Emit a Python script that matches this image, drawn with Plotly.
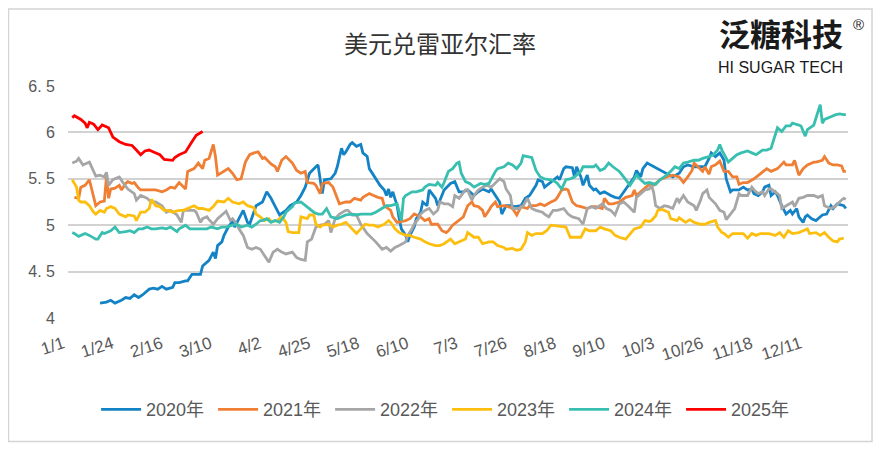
import plotly.graph_objects as go

# ---- axis categories ----
tick_days = [0, 23, 46, 69, 92, 115, 138, 161, 184, 207, 230, 253, 276, 299, 322, 345]
tick_labels = ['1/1', '1/24', '2/16', '3/10', '4/2', '4/25', '5/18', '6/10', '7/3',
               '7/26', '8/18', '9/10', '10/3', '10/26', '11/18', '12/11']
y_ticks = [4, 4.5, 5, 5.5, 6, 6.5]
y_tick_text = ['4', '4. 5', '5', '5. 5', '6', '6. 5']

# ---- series (day of year, USD/BRL) ----
d2020 = [15, 18, 20, 22, 25, 27, 29, 31, 33, 35, 38, 40, 42, 44, 46, 49, 50, 52, 55, 56, 58, 60, 62, 63, 65, 66, 68, 69, 70, 72, 73, 75, 77, 78, 80, 82, 84, 85, 88, 91, 93, 95, 97, 99, 102, 104, 107, 109, 111, 113, 116, 117, 119, 120, 123, 125, 126, 128, 129, 130, 132, 133, 135, 137, 138, 140, 141, 144, 146, 148, 149, 150, 151, 152, 154, 155, 156, 158, 159, 160, 162, 163, 165, 166, 168, 169, 171, 172, 173, 175, 176, 179, 181, 183, 185, 187, 190, 192, 194, 197, 198, 200, 202, 203, 205, 207, 209, 212, 214, 216, 219, 220, 222, 223, 225, 227, 229, 230, 232, 233, 236, 237, 238, 240, 241, 243, 244, 246, 247, 249, 251, 254, 256, 258, 261, 262, 264, 265, 266, 268, 269, 271, 283, 286, 288, 290, 293, 296, 298, 300, 301, 303, 305, 307, 308, 310, 311, 314, 316, 318, 320, 321, 323, 325, 326, 328, 329, 331, 332, 334, 336, 338, 339, 341, 342, 344, 345, 346, 348, 350, 353, 355, 357, 358, 360, 363, 364]
v2020 = [4.16, 4.17, 4.19, 4.16, 4.19, 4.22, 4.21, 4.25, 4.22, 4.25, 4.31, 4.32, 4.31, 4.34, 4.31, 4.33, 4.38, 4.38, 4.40, 4.40, 4.47, 4.47, 4.47, 4.56, 4.60, 4.62, 4.71, 4.64, 4.78, 4.82, 4.89, 4.98, 5.04, 4.98, 5.07, 5.16, 5.03, 5.01, 5.21, 5.25, 5.36, 5.29, 5.20, 5.11, 5.16, 5.21, 5.25, 5.32, 5.41, 5.56, 5.63, 5.65, 5.34, 5.49, 5.50, 5.56, 5.63, 5.83, 5.76, 5.79, 5.87, 5.89, 5.85, 5.87, 5.78, 5.74, 5.61, 5.50, 5.43, 5.38, 5.32, 5.39, 5.30, 5.36, 5.21, 5.07, 4.96, 4.89, 4.82, 4.89, 4.98, 5.07, 5.14, 5.25, 5.21, 5.38, 5.32, 5.29, 5.21, 5.32, 5.38, 5.45, 5.47, 5.36, 5.36, 5.38, 5.32, 5.36, 5.39, 5.36, 5.39, 5.32, 5.25, 5.12, 5.21, 5.21, 5.20, 5.21, 5.29, 5.32, 5.43, 5.49, 5.47, 5.41, 5.45, 5.49, 5.52, 5.49, 5.61, 5.63, 5.62, 5.52, 5.63, 5.52, 5.43, 5.54, 5.43, 5.38, 5.39, 5.34, 5.36, 5.32, 5.30, 5.29, 5.39, 5.43, 5.50, 5.52, 5.59, 5.52, 5.61, 5.67, 5.52, 5.56, 5.63, 5.65, 5.63, 5.63, 5.63, 5.72, 5.78, 5.74, 5.78, 5.70, 5.50, 5.36, 5.38, 5.38, 5.41, 5.38, 5.39, 5.34, 5.32, 5.36, 5.41, 5.43, 5.32, 5.36, 5.32, 5.21, 5.12, 5.16, 5.12, 5.18, 5.09, 5.03, 5.09, 5.11, 5.07, 5.05, 5.11, 5.12, 5.21, 5.18, 5.23, 5.21, 5.18]

d2021 = [3, 5, 6, 8, 10, 12, 13, 15, 17, 18, 19, 20, 22, 24, 25, 27, 28, 30, 31, 33, 34, 37, 39, 41, 44, 46, 48, 50, 52, 55, 56, 59, 61, 63, 64, 66, 68, 69, 70, 73, 75, 77, 79, 81, 83, 85, 87, 89, 91, 92, 94, 95, 97, 98, 100, 102, 105, 107, 109, 111, 112, 115, 116, 118, 119, 122, 124, 126, 127, 130, 132, 134, 137, 138, 141, 143, 145, 147, 148, 151, 152, 154, 156, 158, 160, 162, 165, 167, 169, 170, 173, 175, 177, 178, 180, 183, 185, 187, 189, 190, 192, 194, 195, 197, 198, 200, 201, 204, 206, 208, 210, 212, 215, 216, 219, 221, 223, 226, 228, 229, 231, 233, 234, 236, 238, 240, 243, 245, 247, 250, 251, 253, 255, 258, 260, 261, 264, 265, 266, 268, 270, 272, 274, 277, 280, 283, 286, 288, 290, 292, 293, 295, 297, 298, 300, 301, 303, 305, 307, 309, 311, 313, 314, 316, 318, 321, 323, 325, 327, 329, 330, 332, 335, 336, 339, 340, 342, 344, 346, 349, 350, 353, 354, 356, 358, 360, 362, 363, 364]
v2021 = [5.30, 5.29, 5.41, 5.43, 5.49, 5.32, 5.21, 5.25, 5.26, 5.52, 5.29, 5.39, 5.40, 5.43, 5.38, 5.45, 5.47, 5.45, 5.46, 5.40, 5.38, 5.38, 5.38, 5.38, 5.36, 5.38, 5.41, 5.40, 5.46, 5.39, 5.58, 5.61, 5.67, 5.61, 5.70, 5.72, 5.87, 5.74, 5.54, 5.58, 5.61, 5.56, 5.49, 5.50, 5.68, 5.76, 5.78, 5.79, 5.72, 5.73, 5.68, 5.66, 5.63, 5.58, 5.70, 5.74, 5.67, 5.59, 5.56, 5.58, 5.46, 5.45, 5.43, 5.34, 5.45, 5.46, 5.41, 5.29, 5.23, 5.25, 5.25, 5.29, 5.27, 5.30, 5.34, 5.32, 5.30, 5.29, 5.21, 5.16, 5.09, 5.03, 5.04, 5.05, 5.07, 5.12, 5.09, 5.05, 5.07, 5.01, 5.01, 4.94, 4.92, 4.94, 5.00, 5.05, 5.09, 5.21, 5.25, 5.21, 5.20, 5.16, 5.09, 5.16, 5.20, 5.25, 5.20, 5.21, 5.20, 5.18, 5.11, 5.20, 5.18, 5.21, 5.21, 5.23, 5.21, 5.25, 5.27, 5.30, 5.38, 5.39, 5.38, 5.25, 5.21, 5.20, 5.18, 5.20, 5.20, 5.18, 5.29, 5.23, 5.23, 5.25, 5.29, 5.30, 5.32, 5.38, 5.32, 5.36, 5.41, 5.44, 5.43, 5.49, 5.52, 5.54, 5.52, 5.46, 5.52, 5.59, 5.67, 5.63, 5.58, 5.63, 5.55, 5.63, 5.65, 5.69, 5.58, 5.58, 5.52, 5.52, 5.44, 5.46, 5.46, 5.50, 5.54, 5.58, 5.61, 5.58, 5.59, 5.61, 5.68, 5.65, 5.65, 5.70, 5.54, 5.61, 5.65, 5.68, 5.68, 5.70, 5.74, 5.67, 5.65, 5.65, 5.64, 5.58, 5.58]

d2022 = [2, 4, 5, 7, 9, 10, 12, 13, 15, 17, 18, 19, 21, 22, 24, 26, 28, 31, 32, 34, 37, 39, 41, 44, 46, 48, 51, 53, 54, 56, 59, 60, 62, 63, 65, 66, 68, 70, 72, 74, 76, 77, 79, 80, 82, 84, 86, 88, 90, 92, 94, 96, 98, 100, 102, 105, 107, 109, 111, 112, 114, 116, 118, 120, 122, 123, 125, 127, 130, 131, 133, 135, 137, 140, 142, 144, 147, 149, 151, 153, 155, 158, 159, 161, 162, 164, 165, 167, 169, 171, 173, 174, 176, 178, 180, 181, 183, 184, 186, 187, 189, 190, 192, 194, 196, 198, 200, 202, 204, 205, 207, 208, 211, 213, 215, 217, 219, 222, 223, 225, 227, 229, 232, 234, 236, 239, 241, 243, 245, 247, 250, 252, 254, 256, 258, 260, 262, 265, 266, 268, 270, 272, 273, 274, 275, 277, 279, 281, 283, 285, 286, 288, 290, 293, 294, 296, 297, 299, 300, 303, 305, 307, 308, 310, 312, 314, 315, 318, 320, 321, 323, 325, 326, 328, 329, 332, 333, 334, 336, 339, 340, 342, 344, 346, 349, 351, 353, 354, 357, 359, 361, 363, 364]
v2022 = [5.67, 5.69, 5.72, 5.65, 5.67, 5.68, 5.58, 5.53, 5.54, 5.52, 5.57, 5.43, 5.49, 5.50, 5.52, 5.45, 5.39, 5.34, 5.27, 5.32, 5.29, 5.25, 5.25, 5.21, 5.14, 5.16, 5.11, 5.03, 5.16, 5.16, 5.16, 5.14, 5.03, 5.07, 5.09, 5.06, 5.01, 5.07, 5.11, 5.15, 5.05, 5.07, 5.01, 4.96, 4.89, 4.76, 4.74, 4.76, 4.74, 4.67, 4.60, 4.71, 4.74, 4.71, 4.69, 4.71, 4.65, 4.63, 4.62, 4.82, 4.85, 4.98, 5.00, 5.01, 5.05, 4.92, 5.07, 5.12, 5.16, 5.16, 5.11, 5.11, 5.01, 4.91, 4.87, 4.82, 4.74, 4.76, 4.72, 4.76, 4.78, 4.82, 4.89, 4.96, 5.01, 5.07, 5.12, 5.16, 5.18, 5.12, 5.16, 5.25, 5.23, 5.23, 5.20, 5.32, 5.29, 5.32, 5.38, 5.38, 5.27, 5.32, 5.38, 5.41, 5.43, 5.41, 5.45, 5.50, 5.47, 5.39, 5.32, 5.18, 5.18, 5.21, 5.29, 5.18, 5.16, 5.14, 5.12, 5.09, 5.16, 5.16, 5.18, 5.12, 5.09, 5.07, 5.01, 5.18, 5.20, 5.18, 5.23, 5.18, 5.16, 5.11, 5.23, 5.25, 5.21, 5.14, 5.30, 5.34, 5.38, 5.39, 5.43, 5.36, 5.21, 5.18, 5.21, 5.20, 5.18, 5.29, 5.25, 5.32, 5.25, 5.21, 5.16, 5.27, 5.34, 5.38, 5.30, 5.23, 5.16, 5.14, 5.06, 5.12, 5.18, 5.34, 5.32, 5.32, 5.41, 5.38, 5.34, 5.36, 5.32, 5.39, 5.39, 5.34, 5.32, 5.18, 5.21, 5.25, 5.20, 5.29, 5.30, 5.32, 5.32, 5.30, 5.32, 5.21, 5.18, 5.20, 5.25, 5.29, 5.28]

d2023 = [2, 4, 5, 6, 8, 10, 12, 13, 15, 17, 18, 20, 22, 24, 27, 28, 31, 32, 34, 36, 38, 39, 41, 43, 45, 47, 49, 52, 54, 56, 59, 61, 63, 66, 68, 70, 73, 75, 77, 80, 82, 84, 87, 88, 90, 92, 94, 95, 98, 100, 102, 103, 105, 108, 109, 112, 113, 115, 116, 118, 119, 122, 124, 126, 128, 130, 132, 135, 137, 139, 141, 143, 145, 148, 150, 151, 153, 155, 158, 160, 162, 165, 167, 169, 172, 174, 176, 179, 181, 183, 186, 187, 190, 192, 194, 197, 199, 201, 204, 205, 208, 210, 212, 214, 215, 217, 219, 222, 224, 226, 229, 231, 233, 235, 237, 240, 242, 244, 247, 249, 251, 254, 256, 258, 261, 263, 265, 268, 270, 272, 273, 275, 276, 278, 279, 281, 282, 285, 286, 289, 291, 293, 296, 298, 300, 303, 304, 306, 307, 309, 311, 314, 316, 318, 320, 322, 324, 326, 328, 331, 333, 335, 337, 339, 342, 344, 346, 347, 350, 352, 354, 356, 358, 360, 361, 363]
v2023 = [5.49, 5.41, 5.27, 5.25, 5.25, 5.21, 5.14, 5.12, 5.16, 5.14, 5.18, 5.20, 5.18, 5.12, 5.09, 5.11, 5.10, 5.05, 5.14, 5.14, 5.18, 5.28, 5.21, 5.20, 5.16, 5.16, 5.14, 5.16, 5.16, 5.18, 5.21, 5.18, 5.18, 5.16, 5.20, 5.26, 5.25, 5.29, 5.25, 5.23, 5.25, 5.21, 5.19, 5.12, 5.09, 5.05, 5.07, 5.04, 5.05, 5.09, 5.03, 4.93, 4.92, 4.92, 5.09, 5.07, 5.11, 5.11, 5.01, 4.98, 5.00, 5.01, 4.98, 5.00, 5.01, 5.03, 4.98, 4.91, 4.96, 5.01, 5.00, 5.00, 4.98, 5.01, 5.05, 5.03, 4.96, 4.92, 4.89, 4.89, 4.87, 4.85, 4.82, 4.80, 4.78, 4.78, 4.80, 4.85, 4.80, 4.82, 4.85, 4.92, 4.87, 4.87, 4.80, 4.82, 4.82, 4.78, 4.76, 4.74, 4.75, 4.73, 4.74, 4.82, 4.92, 4.89, 4.91, 4.91, 4.94, 5.00, 4.99, 4.98, 4.98, 4.87, 4.87, 4.87, 4.96, 4.94, 4.94, 4.98, 4.96, 4.94, 4.89, 4.87, 4.85, 4.91, 4.96, 4.98, 5.05, 5.04, 5.05, 5.10, 5.16, 5.17, 5.16, 5.14, 5.07, 5.05, 5.08, 5.03, 5.06, 5.03, 5.01, 5.01, 5.03, 5.05, 4.98, 4.92, 4.91, 4.87, 4.91, 4.91, 4.91, 4.86, 4.91, 4.89, 4.91, 4.91, 4.91, 4.89, 4.92, 4.87, 4.94, 4.91, 4.92, 4.94, 4.96, 4.91, 4.92, 4.89, 4.92, 4.87, 4.83, 4.82, 4.85, 4.86]

d2024 = [2, 3, 5, 6, 8, 10, 13, 14, 16, 17, 20, 22, 24, 27, 29, 31, 33, 35, 37, 39, 41, 44, 46, 48, 51, 52, 55, 57, 59, 62, 65, 67, 70, 72, 74, 77, 79, 81, 84, 86, 88, 90, 91, 93, 95, 97, 99, 101, 102, 105, 106, 109, 110, 112, 115, 117, 119, 121, 123, 126, 128, 130, 133, 135, 137, 140, 142, 144, 147, 149, 151, 154, 155, 156, 157, 158, 161, 163, 166, 167, 169, 172, 173, 175, 176, 178, 180, 182, 183, 184, 186, 188, 190, 193, 195, 197, 200, 201, 204, 206, 208, 210, 212, 213, 215, 217, 219, 221, 223, 226, 228, 229, 231, 233, 235, 237, 240, 241, 243, 246, 247, 249, 251, 253, 255, 258, 260, 261, 263, 265, 266, 268, 270, 272, 275, 277, 279, 282, 284, 286, 288, 290, 293, 295, 297, 300, 302, 304, 305, 306, 309, 311, 313, 315, 318, 320, 322, 325, 327, 329, 331, 332, 334, 336, 338, 339, 342, 343, 345, 346, 349, 350, 352, 353, 354, 357, 359, 361, 364]
v2024 = [4.92, 4.91, 4.88, 4.89, 4.91, 4.89, 4.85, 4.85, 4.92, 4.91, 4.94, 4.98, 4.92, 4.93, 4.94, 4.92, 4.96, 4.96, 4.98, 4.96, 4.96, 4.97, 4.96, 4.98, 4.93, 4.96, 5.00, 4.96, 4.96, 4.96, 4.96, 4.98, 4.96, 4.98, 4.98, 5.00, 5.01, 4.98, 5.00, 4.98, 5.01, 5.05, 5.05, 5.07, 5.03, 5.05, 5.03, 5.09, 5.14, 5.20, 5.24, 5.25, 5.23, 5.20, 5.14, 5.12, 5.12, 5.18, 5.09, 5.07, 5.09, 5.11, 5.12, 5.11, 5.12, 5.12, 5.12, 5.14, 5.18, 5.21, 5.21, 5.23, 5.14, 5.05, 5.29, 5.32, 5.36, 5.36, 5.38, 5.41, 5.44, 5.43, 5.46, 5.41, 5.46, 5.58, 5.61, 5.67, 5.68, 5.56, 5.47, 5.45, 5.41, 5.45, 5.44, 5.45, 5.58, 5.61, 5.63, 5.67, 5.65, 5.61, 5.67, 5.75, 5.74, 5.73, 5.59, 5.52, 5.50, 5.49, 5.47, 5.45, 5.39, 5.49, 5.50, 5.52, 5.58, 5.63, 5.63, 5.63, 5.65, 5.59, 5.61, 5.67, 5.63, 5.58, 5.52, 5.49, 5.43, 5.50, 5.54, 5.49, 5.45, 5.46, 5.44, 5.49, 5.52, 5.58, 5.63, 5.61, 5.67, 5.68, 5.70, 5.70, 5.72, 5.74, 5.76, 5.81, 5.87, 5.81, 5.68, 5.72, 5.76, 5.78, 5.80, 5.78, 5.76, 5.81, 5.81, 5.83, 5.99, 6.05, 6.01, 6.07, 6.07, 6.10, 6.08, 6.07, 5.96, 6.03, 6.08, 6.16, 6.30, 6.10, 6.14, 6.17, 6.19, 6.20, 6.19]

d2025 = [2, 3, 6, 8, 9, 10, 12, 14, 16, 19, 21, 24, 27, 30, 32, 34, 36, 38, 40, 43, 45, 49, 50, 52, 55, 56, 58, 60, 63]
v2025 = [6.16, 6.18, 6.14, 6.10, 6.05, 6.11, 6.09, 6.03, 6.08, 6.05, 5.95, 5.90, 5.87, 5.86, 5.81, 5.76, 5.80, 5.81, 5.79, 5.76, 5.71, 5.70, 5.73, 5.76, 5.79, 5.83, 5.90, 5.97, 6.01]

series = [
    ('2020年', d2020, v2020, '#1483c6'),
    ('2021年', d2021, v2021, '#ef7f34'),
    ('2022年', d2022, v2022, '#a6a6a6'),
    ('2023年', d2023, v2023, '#fdbf0f'),
    ('2024年', d2024, v2024, '#38bfb0'),
    ('2025年', d2025, v2025, '#ff0000'),
]

fig = go.Figure()
for name, d, v, c in series:
    fig.add_trace(go.Scatter(x=d, y=v, mode='lines', name=name,
                             line=dict(color=c, width=2.8)))

GRAY = '#595959'

fig.update_layout(
    width=868, height=436,
    margin=dict(l=60, r=28, t=78, b=126),
    paper_bgcolor='white', plot_bgcolor='white',
    font=dict(family='Liberation Sans, Noto Sans CJK SC', color=GRAY),
    showlegend=True,
    legend=dict(orientation='h', x=0.486, xanchor='center', y=-0.395, yanchor='middle',
                font=dict(size=18, color=GRAY), itemwidth=40, entrywidth=62,
                bgcolor='rgba(0,0,0,0)'),
    xaxis=dict(range=[0, 365], tickvals=tick_days, ticktext=tick_labels,
               tickangle=-18, showgrid=False, zeroline=False, showline=False,
               ticks='', tickfont=dict(size=17, color=GRAY),
               ticklabelstandoff=12, ticklabelshift=-5),
    yaxis=dict(range=[3.999, 6.501], tickvals=y_ticks, ticktext=y_tick_text,
               showgrid=True, gridcolor='#d2d2d2', gridwidth=1.8, zeroline=False,
               showline=False, ticks='', tickfont=dict(size=16, color=GRAY),
               ticklabelstandoff=12),
)

# outer frame
fig.add_shape(type='rect', xref='paper', yref='paper',
              x0=-0.0763, x1=1.0308, y0=-0.532, y1=1.332,
              line=dict(color='#d4d4d4', width=1.5), fillcolor='rgba(0,0,0,0)', layer='below')

# title
fig.add_annotation(text='美元兑雷亚尔汇率', xref='paper', yref='paper', x=0.477, y=1.186,
                   showarrow=False, xanchor='center', yanchor='middle',
                   font=dict(size=24, color='#333333', family='Noto Sans CJK SC'))
# logo
fig.add_annotation(text='<b>泛糖科技</b>', xref='paper', yref='paper', x=0.914, y=1.127,
                   showarrow=False, xanchor='center', yanchor='bottom',
                   font=dict(size=31, color='#1a1a1a', family='Noto Sans CJK SC'))
fig.add_annotation(text='HI SUGAR TECH', xref='paper', yref='paper', x=0.914, y=1.123,
                   showarrow=False, xanchor='center', yanchor='top',
                   font=dict(size=16, color='#1a1a1a', family='Liberation Sans'))
fig.add_annotation(text='®', xref='paper', yref='paper', x=1.013, y=1.263,
                   showarrow=False, xanchor='center', yanchor='middle',
                   font=dict(size=15, color='#1a1a1a', family='Liberation Sans'))

fig.write_html('out.html')
